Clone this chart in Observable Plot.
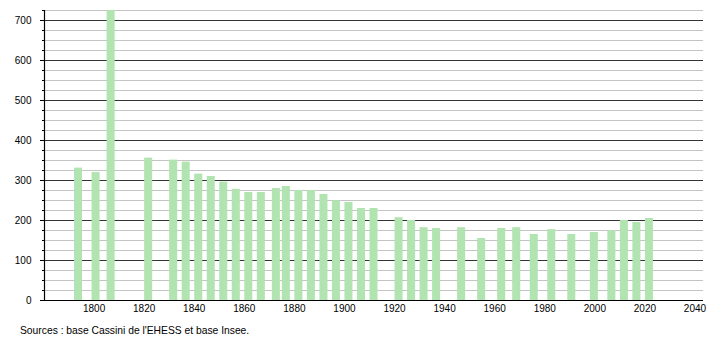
<!DOCTYPE html>
<html>
<head>
<meta charset="utf-8">
<script src="https://cdn.jsdelivr.net/npm/d3@7"></script>
<script src="https://cdn.jsdelivr.net/npm/@observablehq/plot@0.6"></script>
<style>
  html, body { margin: 0; padding: 0; background: #fff; }
  #chart svg { display: block; }
  .caption { font-family: "Liberation Sans", Arial, sans-serif; font-size: 10.3px; color: #000; margin: 7px 0 0 20px; line-height: 12px; }
</style>
</head>
<body>
<div id="chart"></div>
<div class="caption">Sources : base Cassini de l'EHESS et base Insee.</div>
<script>
const years = [1793,1800,1806,1821,1831,1836,1841,1846,1851,1856,1861,1866,1872,1876,1881,1886,1891,1896,1901,1906,1911,1921,1926,1931,1936,1946,1954,1962,1968,1975,1982,1990,1999,2006,2011,2016,2021];
const population = [331,320,725,356,351,346,316,310,296,278,270,270,280,285,275,275,265,249,245,230,230,207,200,182,180,182,155,180,182,165,177,165,170,175,200,195,205];
const xTicks = [1800,1820,1840,1860,1880,1900,1920,1940,1960,1980,2000,2020,2040];
const yMajor = [0,100,200,300,400,500,600,700];
const yMinor = d3.range(25, 726, 25).filter(v => v % 100 !== 0);

const data = years.map((y, i) => ({year: y, pop: population[i]}));
const halfBar = 1.6;

const chart = Plot.plot({
  width: 710,
  height: 318,
  marginLeft: 44,
  marginRight: 7,
  marginTop: 10,
  marginBottom: 18,
  style: {fontFamily: "Liberation Sans, Arial, sans-serif", fontSize: "10px", color: "#000", background: "#fff"},
  x: {domain: [1779.4, 2042.6]},
  y: {domain: [0, 725]},
  marks: [
    Plot.ruleY(yMinor, {stroke: "#c4c4c4", strokeWidth: 1}),
    Plot.ruleY(yMajor.filter(v => v > 0), {stroke: "#333", strokeWidth: 1}),
    Plot.rectY(data, {x1: d => d.year - halfBar, x2: d => d.year + halfBar, y: "pop", fill: "#b1e4b1"}),
    Plot.axisY(yMajor, {tickSize: 4, tickPadding: 9, label: null, stroke: "#000", fontSize: 10}),
    Plot.axisY(yMinor, {tickSize: 2, text: null, label: null, stroke: "#000"}),
    Plot.ruleX([1779.4], {stroke: "#000", strokeWidth: 1.2}),
    Plot.ruleY([0], {stroke: "#000", strokeWidth: 1.2}),
    Plot.axisX(xTicks, {tickSize: 0, tickPadding: 4, dx: -2, label: null, tickFormat: d => String(d), fontSize: 10})
  ]
});
document.getElementById("chart").appendChild(chart);
</script>
</body>
</html>
